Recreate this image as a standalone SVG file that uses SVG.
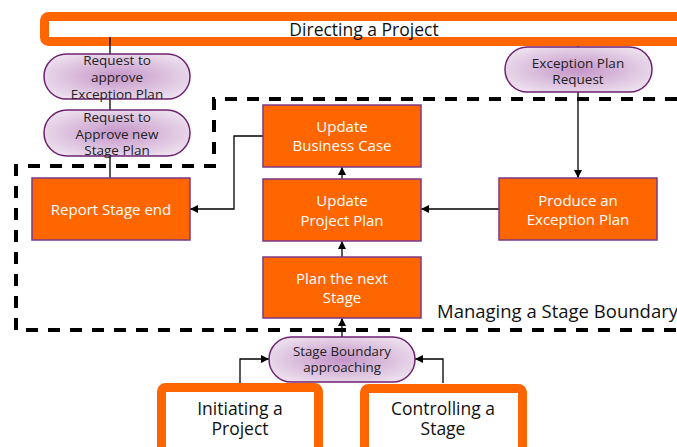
<svg xmlns="http://www.w3.org/2000/svg" width="677" height="447" viewBox="0 0 677 447">
<style>
text{font-family:"Open Sans","DejaVu Sans",sans-serif;text-anchor:middle}
.box{fill:#FF6600;stroke:#7A3A8A;stroke-width:1.5}
.btxt{fill:#ffffff;font-size:15px}
.pill{fill:url(#pg);stroke:#6E2270;stroke-width:1.5}
.ptxt{fill:#222222;font-size:13.5px}
.proc{fill:#ffffff;stroke:#FF6600;stroke-width:9}
.ltxt{fill:#111111;font-size:17.5px}
.con{fill:none;stroke:#000000;stroke-width:1.3}
.dash{fill:none;stroke:#000000;stroke-width:4;stroke-dasharray:12 10}
</style>
<defs>
<radialGradient id="pg" cx="0.5" cy="0.5" r="0.6">
<stop offset="0" stop-color="#C595C8"/>
<stop offset="1" stop-color="#EEE2EF"/>
</radialGradient>
<marker id="ah" viewBox="0 0 10 10" refX="10" refY="5" markerWidth="8" markerHeight="8" markerUnits="userSpaceOnUse" orient="auto">
<path d="M0,0 L10,5 L0,10 z" fill="#000000"/>
</marker>
</defs>

<g id="stage-boundary-frame">
<path class="dash" d="M677,99 H214 V166 H16 V330 H677"/>
<text class="ltxt" x="437" y="318" style="text-anchor:start;font-size:18.5px">Managing a Stage Boundary</text>
</g>

<g id="directing">
<rect class="proc" x="44.5" y="16.5" width="660" height="25" rx="4"/>
<text class="ltxt" x="364" y="36">Directing a Project</text>
</g>

<g id="connectors">
<path class="con" d="M110,37 V54"/>
<path class="con" d="M110,99 V110"/>
<path class="con" d="M110,156 V178"/>
<path class="con" d="M578,46 V47"/>
<path class="con" d="M578,92 V178" marker-end="url(#ah)"/>
<path class="con" d="M499,209 H421" marker-end="url(#ah)"/>
<path class="con" d="M263,136 H234 V209 H190" marker-end="url(#ah)"/>
<path class="con" d="M342,179 V167" marker-end="url(#ah)"/>
<path class="con" d="M342,257 V241" marker-end="url(#ah)"/>
<path class="con" d="M342,337 V318" marker-end="url(#ah)"/>
<path class="con" d="M240,383 V359 H269" marker-end="url(#ah)"/>
<path class="con" d="M443,383 V359 H415" marker-end="url(#ah)"/>
</g>

<g id="req-exception-plan">
<rect class="pill" x="44" y="54" width="146" height="45" rx="22.5"/>
<text class="ptxt" x="117" y="65">Request to<tspan x="117" dy="17">approve</tspan><tspan x="117" dy="17">Exception Plan</tspan></text>
</g>

<g id="req-stage-plan">
<rect class="pill" x="44" y="110" width="146" height="46" rx="23"/>
<text class="ptxt" x="117" y="122">Request to<tspan x="117" dy="16.5">Approve new</tspan><tspan x="117" dy="16.5">Stage Plan</tspan></text>
</g>

<g id="exception-plan-request">
<rect class="pill" x="505" y="47" width="147" height="45" rx="22.5"/>
<text class="ptxt" x="578" y="68">Exception Plan<tspan x="578" dy="16">Request</tspan></text>
</g>

<g id="report-stage-end">
<rect class="box" x="32" y="178" width="158" height="62"/>
<text class="btxt" x="111" y="215">Report Stage end</text>
</g>

<g id="update-business-case">
<rect class="box" x="263" y="105" width="158" height="62"/>
<text class="btxt" x="342" y="132">Update<tspan x="342" dy="19">Business Case</tspan></text>
</g>

<g id="update-project-plan">
<rect class="box" x="263" y="179" width="158" height="62"/>
<text class="btxt" x="342" y="206">Update<tspan x="342" dy="20">Project Plan</tspan></text>
</g>

<g id="plan-next-stage">
<rect class="box" x="263" y="257" width="158" height="61"/>
<text class="btxt" x="342" y="284">Plan the next<tspan x="342" dy="19">Stage</tspan></text>
</g>

<g id="produce-exception-plan">
<rect class="box" x="499" y="178" width="158" height="62"/>
<text class="btxt" x="578" y="206">Produce an<tspan x="578" dy="19">Exception Plan</tspan></text>
</g>

<g id="stage-boundary-approaching">
<rect class="pill" x="269" y="337" width="146" height="45" rx="22.5"/>
<text class="ptxt" x="342" y="356" style="font-size:13.3px">Stage Boundary<tspan x="342" dy="16">approaching</tspan></text>
</g>

<g id="initiating">
<rect class="proc" x="161.5" y="387.5" width="157" height="90" rx="4"/>
<text class="ltxt" x="240" y="415">Initiating a<tspan x="240" dy="20">Project</tspan></text>
</g>

<g id="controlling">
<rect class="proc" x="364.5" y="388.5" width="158" height="90" rx="4"/>
<text class="ltxt" x="443" y="415">Controlling a<tspan x="443" dy="20">Stage</tspan></text>
</g>
</svg>
